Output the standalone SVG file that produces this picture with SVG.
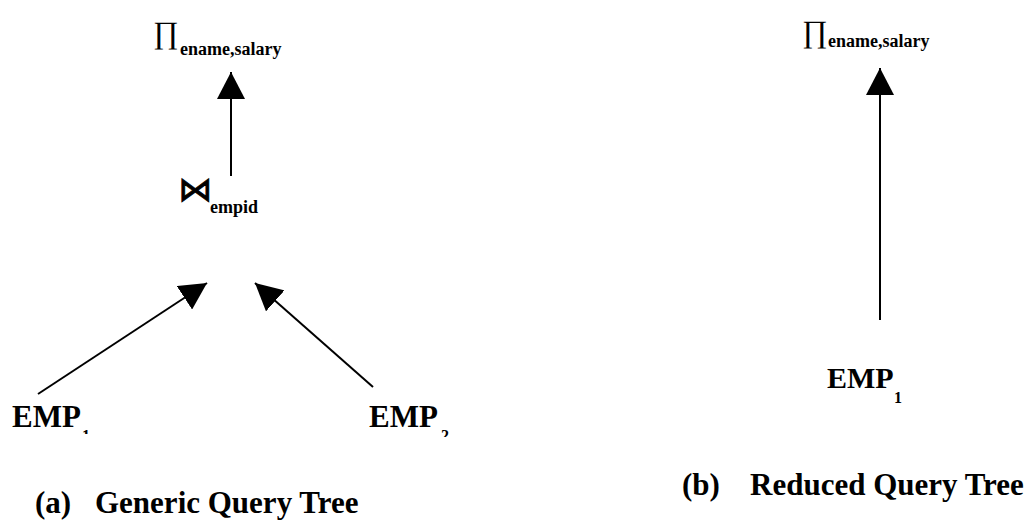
<svg xmlns="http://www.w3.org/2000/svg" width="1034" height="523" viewBox="0 0 1034 523">
  <style>
    .op { font-family: "Liberation Serif", "Times New Roman", serif; font-size: 31px; fill: #000; }
    .sub { font-family: "Liberation Serif", "Times New Roman", serif; font-size: 18px; font-weight: bold; fill: #000; }
    .rel { font-family: "Liberation Serif", "Times New Roman", serif; font-size: 31px; font-weight: bold; fill: #000; }
    .idx { font-family: "Liberation Serif", "Times New Roman", serif; font-size: 16px; font-weight: bold; fill: #000; }
    .cap { font-family: "Liberation Serif", "Times New Roman", serif; font-size: 31px; font-weight: bold; fill: #000; }
    .join { font-family: "DejaVu Sans", sans-serif; font-size: 34px; fill: #000; stroke: #000; stroke-width: 0.8px; }
    .edge { fill: none; stroke: #000; stroke-width: 2; marker-end: url(#head); }
  </style>
  <defs>
    <marker id="head" markerUnits="userSpaceOnUse" markerWidth="28" markerHeight="28" refX="27" refY="14" orient="auto" viewBox="0 0 28 28">
      <path d="M0,0 L27,14 L0,28 Z" fill="#000"/>
    </marker>
    <!-- the lower index digits of panel (a) are cut off at their text box bottom -->
    <clipPath id="cut1"><rect x="78" y="420" width="20" height="14"/></clipPath>
    <clipPath id="cut2"><rect x="438" y="420" width="20" height="17"/></clipPath>
  </defs>

  <!-- (a) generic tree -->
  <g id="proj-a">
    <text class="op" x="153" y="43">∏</text>
    <text class="sub" x="180" y="55">ename,salary</text>
  </g>
  <g id="join-a">
    <text class="join" x="178" y="201">⋈</text>
    <text class="sub" x="210" y="213">empid</text>
  </g>
  <g id="emp1-a">
    <text class="rel" x="12" y="427">EMP</text>
    <text class="idx" x="82" y="441" clip-path="url(#cut1)">1</text>
  </g>
  <g id="emp2-a">
    <text class="rel" x="369" y="427">EMP</text>
    <text class="idx" x="441" y="441" clip-path="url(#cut2)">2</text>
  </g>

  <!-- (b) reduced tree -->
  <g id="proj-b">
    <text class="op" x="802" y="42">∏</text>
    <text class="sub" x="828" y="47">ename,salary</text>
  </g>
  <g id="emp1-b">
    <text class="rel" x="827" y="388" style="font-size:30px">EMP</text>
    <text class="idx" x="894" y="403">1</text>
  </g>

  <g id="edges">
    <path class="edge" d="M231,176 L231,72"/>
    <path class="edge" d="M38,394 L207,283"/>
    <path class="edge" d="M373,387 L255,283"/>
    <path class="edge" d="M880,320 L880,68"/>
  </g>

  <g id="captions">
    <text class="cap" y="513"><tspan x="35">(a)</tspan><tspan x="95">Generic Query Tree</tspan></text>
    <text class="cap" y="495"><tspan x="682">(b)</tspan><tspan x="750">Reduced Query Tree</tspan></text>
  </g>
</svg>
